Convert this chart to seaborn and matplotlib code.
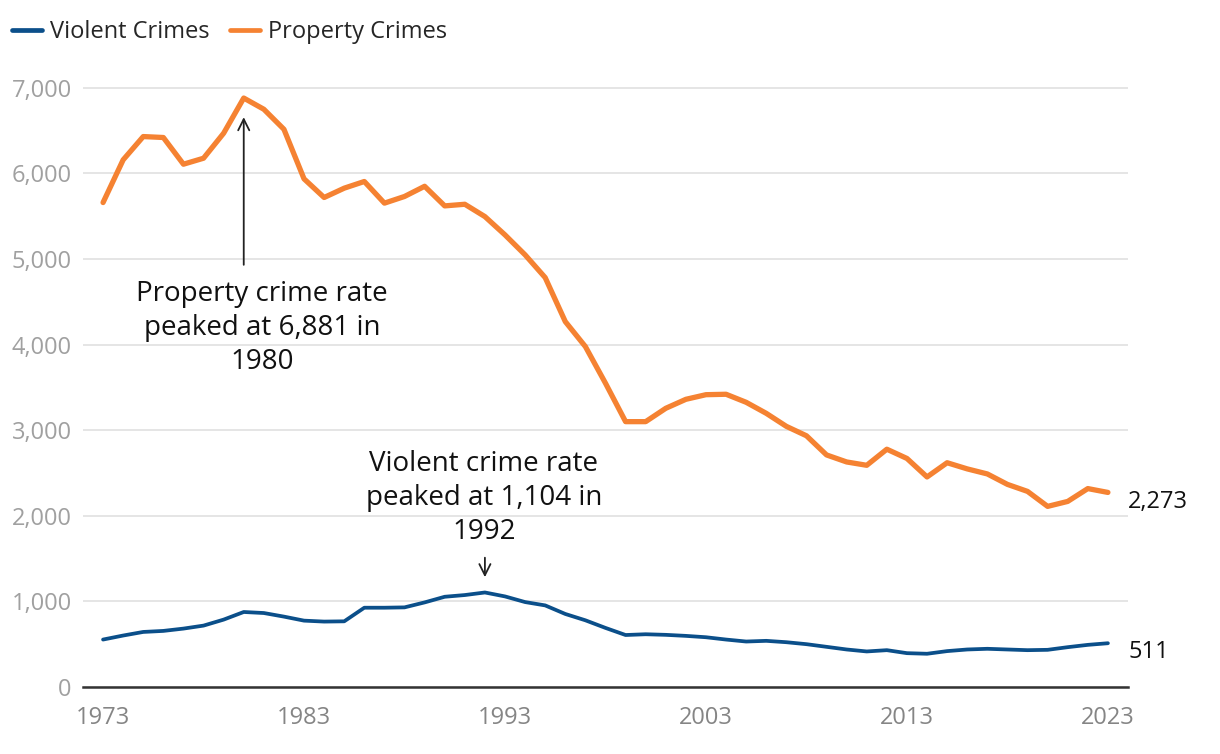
import matplotlib
matplotlib.use("Agg")
import matplotlib.pyplot as plt
import seaborn as sns
import pandas as pd
import numpy as np
from matplotlib.ticker import FuncFormatter
from matplotlib.lines import Line2D

years = list(range(1973, 2024))
violent = [554, 601, 643, 655, 682, 717, 787, 876, 864, 822,
           775, 764, 767, 926, 926, 930, 988, 1054, 1074, 1104,
           1058, 992, 953, 853, 779, 690, 607, 616, 609, 597,
           581, 554, 531, 539, 523, 500, 469, 438, 415, 430,
           395, 388, 419, 438, 446, 438, 430, 434, 465, 492, 511]
property_ = [5660, 6159, 6431, 6420, 6108, 6178, 6470, 6881, 6750, 6516,
             5937, 5719, 5828, 5906, 5653, 5731, 5850, 5621, 5640, 5496,
             5282, 5049, 4783, 4269, 3977, 3549, 3100, 3100, 3256, 3361,
             3415, 3420, 3326, 3197, 3045, 2935, 2711, 2629, 2590, 2778,
             2670, 2454, 2620, 2548, 2489, 2367, 2285, 2110, 2168, 2318, 2273]
series_names = ["Violent Crimes", "Property Crimes"]
colors = {"Violent Crimes": "#0B4F8A", "Property Crimes": "#F58232"}
xticks = [1973, 1983, 1993, 2003, 2013, 2023]
yticks = [0, 1000, 2000, 3000, 4000, 5000, 6000, 7000]

df = pd.concat([
    pd.DataFrame({"year": years, "rate": violent, "series": series_names[0]}),
    pd.DataFrame({"year": years, "rate": property_, "series": series_names[1]}),
])

sns.set_style("white")
plt.rcParams["font.family"] = ["Open Sans", "DejaVu Sans"]

fig = plt.figure(figsize=(12.2, 7.54), dpi=100)
ax = fig.add_axes([0.068, 0.0889, 0.8566, 0.8116])

sns.lineplot(data=df, x="year", y="rate", hue="series", palette=colors,
             hue_order=series_names, ax=ax, legend=False)
lines = ax.get_lines()
lines[0].set_linewidth(2.7)
lines[1].set_linewidth(3.8)
for ln in lines:
    ln.set_solid_capstyle("round")
    ln.set_solid_joinstyle("round")

ax.set_xlim(1972, 2024)
ax.set_ylim(0, 7150)
ax.set_xticks(xticks)
ax.set_yticks(yticks)
ax.yaxis.set_major_formatter(FuncFormatter(lambda v, p: f"{int(v):,}"))
ax.grid(axis="y", color="#e3e3e3", linewidth=1.3)
ax.set_axisbelow(True)
for s in ["top", "right", "left"]:
    ax.spines[s].set_visible(False)
ax.spines["bottom"].set_color("#333333")
ax.spines["bottom"].set_linewidth(1.8)
ax.tick_params(axis="y", length=0, pad=8, labelsize=17, labelcolor="#a0a0a0")
ax.tick_params(axis="x", length=7, width=1.8, color="#333333", pad=7,
               labelsize=17, labelcolor="#858585")
ax.set_xlabel("")
ax.set_ylabel("")

# legend
handles = [Line2D([0], [0], color=colors[n], lw=3.4, solid_capstyle="round") for n in series_names]
fig.legend(handles, series_names, loc="center left", bbox_to_anchor=(0.0, 0.957),
           ncol=2, frameon=False, fontsize=17, handlelength=1.27,
           handletextpad=0.35, columnspacing=0.85, borderaxespad=0.1)

# annotations
pk_p = years[int(np.argmax(property_))]
pk_v = years[int(np.argmax(violent))]
ax.annotate("", xy=(pk_p, 6690), xytext=(pk_p, 4900),
            arrowprops=dict(arrowstyle="->", color="#222222", lw=1.3,
                            mutation_scale=20))
ax.text(pk_p + 0.9, 4195, f"Property crime rate\npeaked at {max(property_):,} in\n{pk_p}",
        ha="center", va="center", fontsize=20, color="#111111", linespacing=1.28)
ax.annotate("", xy=(pk_v, 1250), xytext=(pk_v, 1543),
            arrowprops=dict(arrowstyle="->", color="#222222", lw=1.3,
                            mutation_scale=20))
ax.text(pk_v - 0.05, 2209, f"Violent crime rate\npeaked at {max(violent):,} in\n{pk_v}",
        ha="center", va="center", fontsize=20, color="#111111", linespacing=1.28)

# end labels
ax.text(years[-1] + 1.0, property_[-1] - 110, f"{property_[-1]:,}", ha="left",
        va="center", fontsize=17, color="#111111", clip_on=False)
ax.text(years[-1] + 1.0, violent[-1] - 100, f"{violent[-1]:,}", ha="left",
        va="center", fontsize=17, color="#111111", clip_on=False)

fig.savefig("out.png", dpi=100)
